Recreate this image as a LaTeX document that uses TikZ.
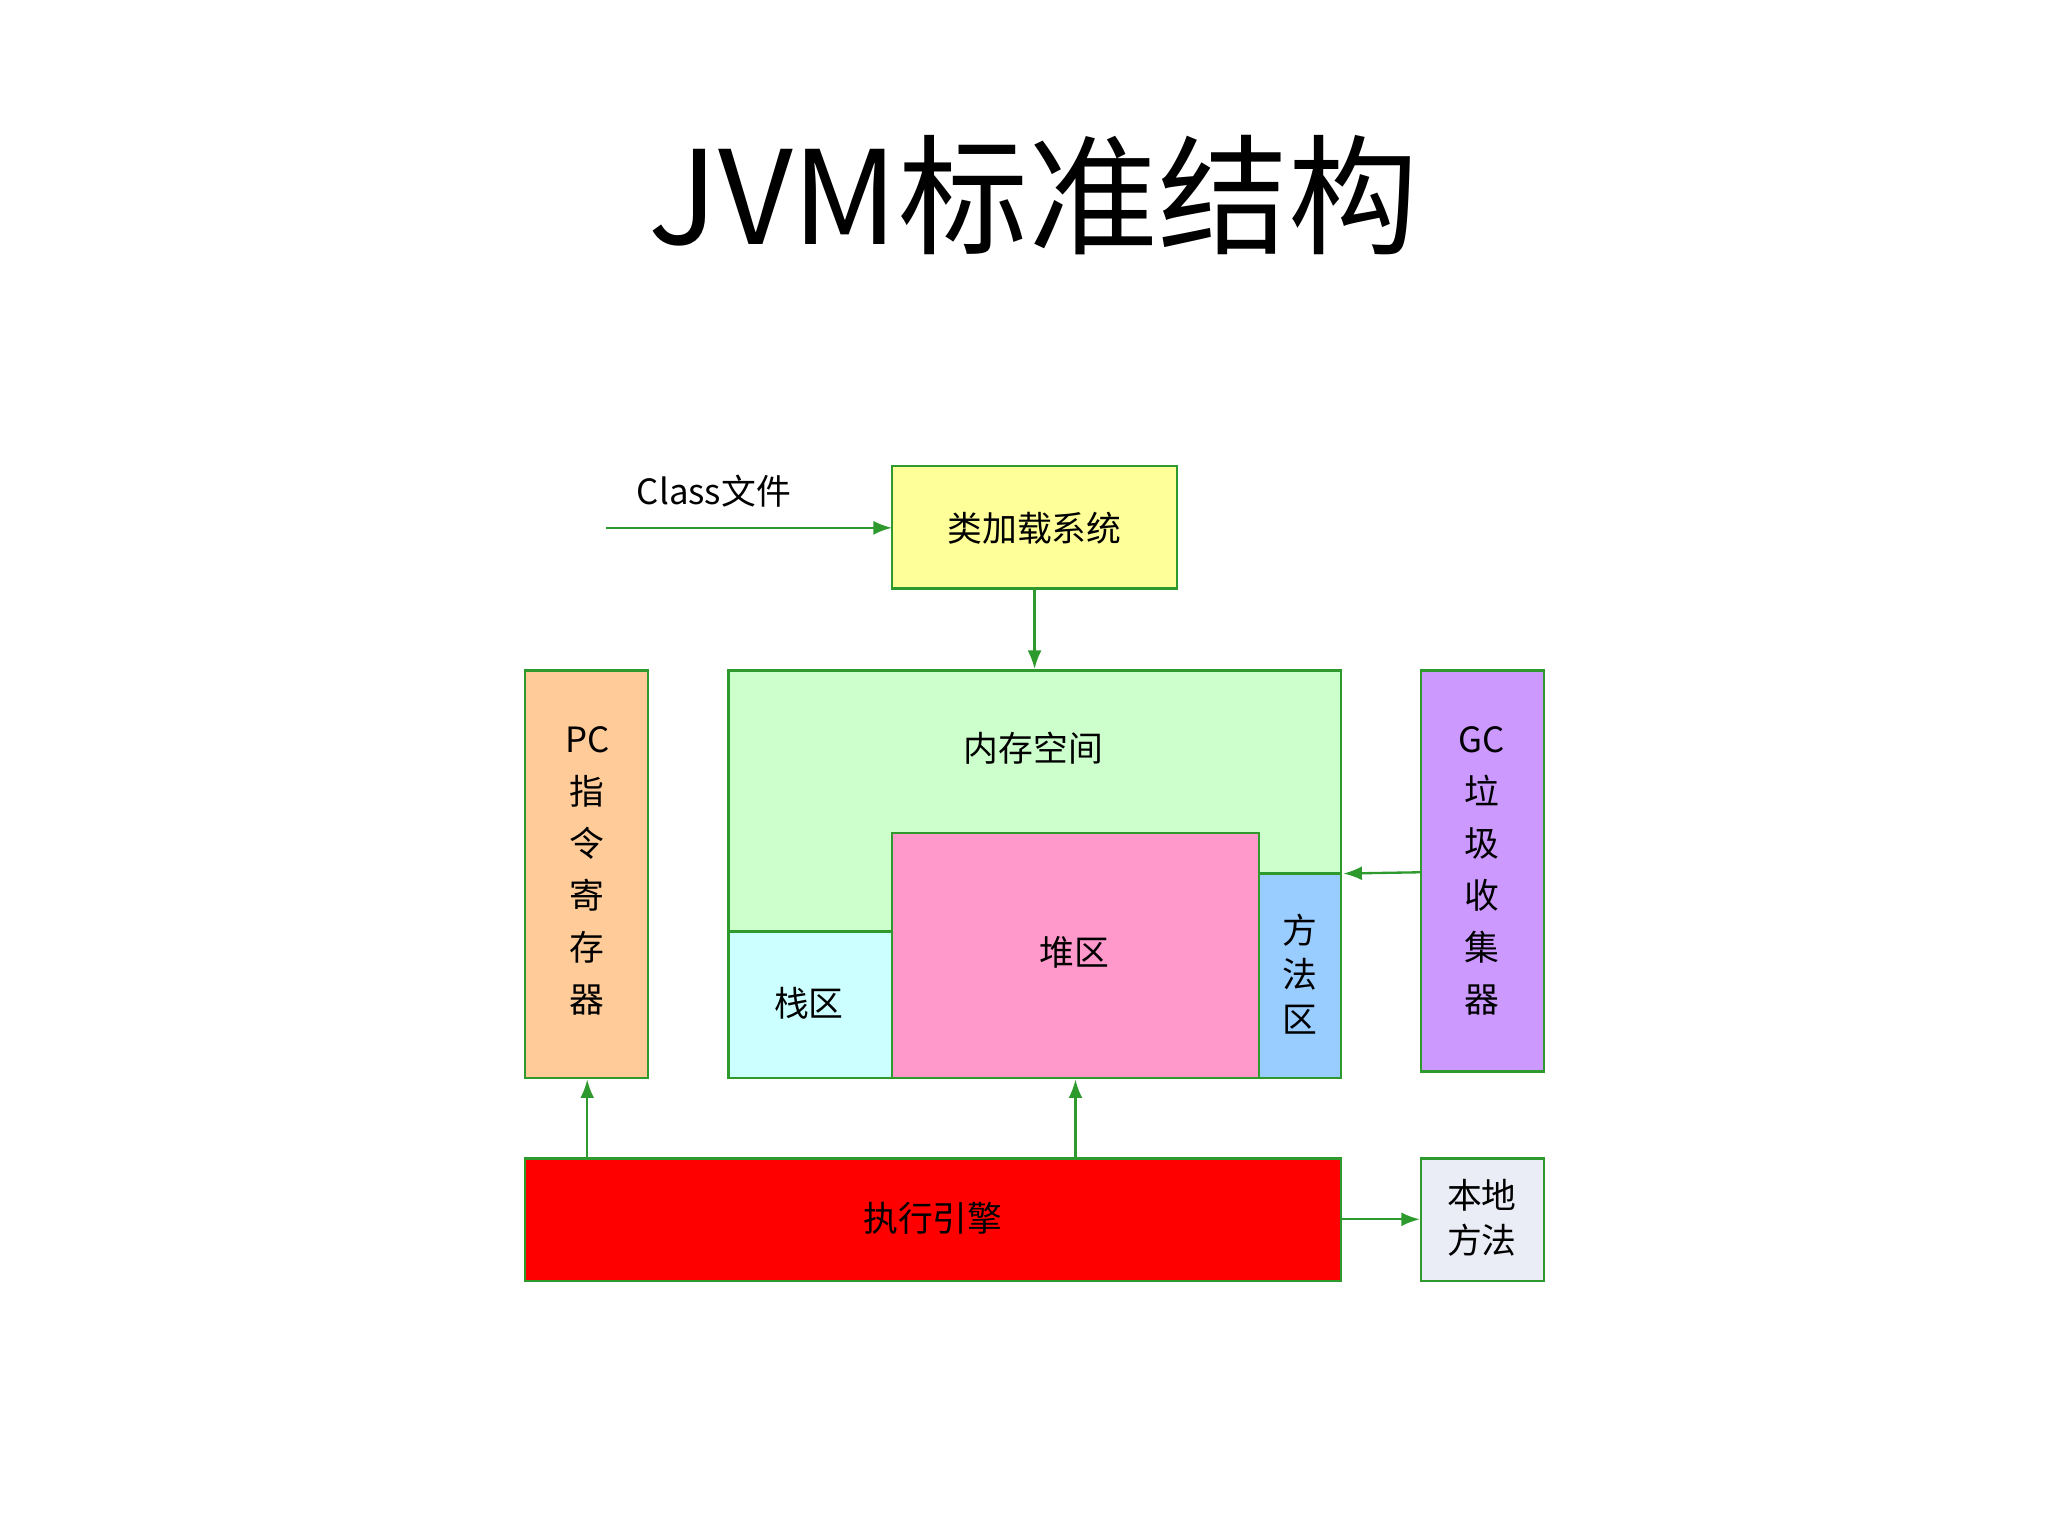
\documentclass[tikz,border=0pt]{standalone}
\usepackage{fontspec}
\newfontfamily\cjk{Noto Sans CJK SC}
\newfontfamily\serifcjk{Noto Sans CJK SC}
\usetikzlibrary{arrows.meta}
\definecolor{bd}{HTML}{2E9A2E}
\tikzset{
 box/.style={draw=bd,line width=0.5pt,inner sep=0pt},
 lab/.style={font=\cjk\fontsize{7.5}{9.6}\selectfont,align=center},
 arr/.style={draw=bd,line width=0.5pt,-{Latex[length=4pt,width=3pt]}}
}
\begin{document}
\begin{tikzpicture}[x=0.01cm,y=-0.01cm]
\useasboundingbox (0,0) rectangle (1552,1164);
\node[font=\cjk\fontsize{28}{30}\selectfont] (title) at (783,148) {JVM标准结构};
% boxes
\filldraw[box,fill=white] (676,353) rectangle (892,446);
\fill[fill={rgb,255:red,255;green,255;blue,153}] (676,353) rectangle (892,446);
\draw[box] (676,353) rectangle (892,446);
\coordinate (cl) at (676,400);
\node[lab] (loader) at (784,400) {类加载系统};
\node[font=\serifcjk\fontsize{7.5}{9}\selectfont] (cf) at (541,372) {Class文件};
\coordinate (cfs) at (459,400);
\draw[arr] (cfs) -- (cl);
\filldraw[box,fill={rgb,255:red,204;green,255;blue,204}] (552,508) rectangle (1016,817);
\node[lab] (mem) at (783,567) {内存空间};
\draw[arr] (784,446) -- (784,507);
\filldraw[box,fill={rgb,255:red,204;green,255;blue,255}] (552,706) rectangle (676,817);
\node[lab] (stack) at (613,760) {栈区};
\filldraw[box,fill={rgb,255:red,255;green,153;blue,204}] (676,631) rectangle (954,817);
\node[lab] (heap) at (814,722) {堆区};
\filldraw[box,fill={rgb,255:red,153;green,204;blue,255}] (954,662) rectangle (1016,817);
\node[lab] (meth) at (985,738) {方\\法\\区};
\filldraw[box,fill={rgb,255:red,255;green,204;blue,153}] (398,508) rectangle (491,817);
\node[lab,font=\cjk\fontsize{7.5}{11.2}\selectfont] (pc) at (445,660) {PC\\指\\令\\寄\\存\\器};
\filldraw[box,fill={rgb,255:red,204;green,153;blue,255}] (1077,508) rectangle (1170,812);
\node[lab,font=\cjk\fontsize{7.5}{11.2}\selectfont] (gc) at (1123,660) {GC\\垃\\圾\\收\\集\\器};
\draw[arr] (1077,661) -- (1018,662);
\filldraw[box,fill=red] (398,878) rectangle (1016,971);
\node[lab] (exec) at (707,923) {执行引擎};
\draw[arr] (445,878) -- (445,818);
\draw[arr] (815,878) -- (815,818);
\filldraw[box,fill={rgb,255:red,234;green,236;blue,246}] (1077,878) rectangle (1170,971);
\node[lab] (native) at (1123,923) {本地\\方法};
\draw[arr] (1016,924) -- (1076,924);
\end{tikzpicture}
\end{document}
